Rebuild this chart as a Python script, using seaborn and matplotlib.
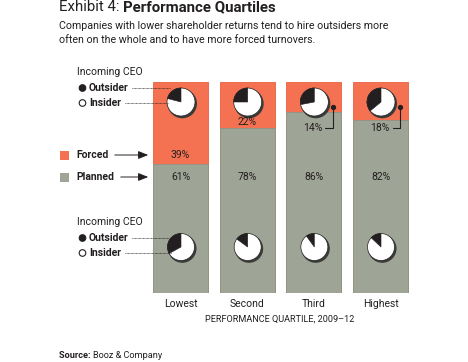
import matplotlib
matplotlib.use('Agg')
import matplotlib.pyplot as plt
from matplotlib.patches import Wedge, Circle, Rectangle
import pandas as pd
import seaborn as sns

quartiles = ['Lowest', 'Second', 'Third', 'Highest']
forced = [39, 22, 14, 18]
planned = [61, 78, 86, 82]
# share of outsider CEOs (percent)
outsider_forced = [21, 25, 28, 36]
outsider_planned = [33, 15, 10, 13]

FORCED = '#F47252'
PLANNED = '#9EA596'
INK = '#231F20'
FONT = 'Roboto'

sns.set_theme(style='white')
plt.rcParams['font.family'] = [FONT, 'DejaVu Sans']

df = pd.DataFrame({'quartile': quartiles, 'forced': forced, 'planned': planned})
df['total'] = df['forced'] + df['planned']

W, H = 468, 362
fig = plt.figure(figsize=(W / 100, H / 100), dpi=100)

# bar axes, placed in pixel terms
bx0, bx1, by0, by1 = 147.2, 413.8, 82, 293
bax = fig.add_axes([bx0 / W, (H - by1) / H, (bx1 - bx0) / W, (by1 - by0) / H])
sns.barplot(data=df, x='quartile', y='total', color=FORCED, saturation=1, width=0.825,
            edgecolor='#E8603F', linewidth=0.6, ax=bax)
sns.barplot(data=df, x='quartile', y='planned', color=PLANNED, saturation=1, width=0.825,
            edgecolor='#8E9587', linewidth=0.6, ax=bax)
bax.set_xlim(-0.5, 3.5)
bax.set_ylim(0, 100)
bax.axis('off')
bax.set_zorder(0)

# overlay in pixel coordinates (y down)
ov = fig.add_axes([0, 0, 1, 1])
ov.set_xlim(0, W)
ov.set_ylim(H, 0)
ov.axis('off')
ov.patch.set_visible(False)
ov.set_zorder(1)

centers = [180.5 + i * 66.67 for i in range(4)]


def pie(cx, cy, r, pct):
    ov.add_patch(Circle((cx + 1.3, cy + 1.6), r, color='#3A3A38', zorder=3))
    ov.add_patch(Circle((cx, cy), r, facecolor='white', edgecolor=INK, lw=0.5, zorder=4))
    ov.add_patch(Wedge((cx, cy), r, -90 - 3.6 * pct, -90, facecolor=INK, edgecolor=INK,
                       lw=0.4, zorder=5))


for i, cx in enumerate(centers):
    pie(cx + 0.5, 102, 14, outsider_forced[i])
    pie(cx + 0.5, 247, 13.5, outsider_planned[i])

# percentage labels
forced_y = [155, 122, 128, 128]
forced_x = [centers[0], centers[1], centers[2] - 1, centers[3] - 1]
for i in range(4):
    ov.text(forced_x[i], forced_y[i], f'{forced[i]}%', ha='center', va='center',
            fontsize=7.5, color=INK, zorder=6)
    ov.text(centers[i], 177, f'{planned[i]}%', ha='center', va='center',
            fontsize=7.5, color=INK, zorder=6)

# connectors for small forced shares
for cx, x_end in [(centers[2], 325), (centers[3], 393)]:
    xd = cx + 19.5
    ov.plot([xd, xd, x_end], [107, 127.5, 127.5], color=INK, lw=0.8, zorder=6)
    ov.plot([xd], [107], 'o', ms=2.8, color=INK, zorder=6)

renderer = fig.canvas.get_renderer()


def text_after(t, x, y, s, **kw):
    ext = t.get_window_extent(renderer=renderer)
    return ov.text(x + ext.width, y, s, **kw)


# titles
t = ov.text(59, 7, 'Exhibit 4: ', fontsize=10.8, color=INK, va='center', ha='left')
text_after(t, 59, 7, 'Performance Quartiles', fontsize=10.8, color=INK, va='center',
           ha='left', fontweight='bold')
ov.text(59, 26, 'Companies with lower shareholder returns tend to hire outsiders more',
        fontsize=7.7, color=INK, va='center', ha='left')
ov.text(59, 40, 'often on the whole and to have more forced turnovers.',
        fontsize=7.7, color=INK, va='center', ha='left')


# incoming CEO keys
def ceo_key(y0, end_out, end_in, y_out_end, y_in_end):
    ov.text(77, y0, 'Incoming CEO', fontsize=7.5, color=INK, va='center', ha='left')
    yo, yi = y0 + 16, y0 + 31
    ov.add_patch(Circle((82.5, yo), 3.3, facecolor=INK, edgecolor=INK, lw=0.8))
    ov.add_patch(Circle((82.5, yi), 3.3, facecolor='white', edgecolor=INK, lw=0.8))
    ov.text(89, yo, 'Outsider', fontsize=7.5, color=INK, va='center', ha='left',
            fontweight='bold')
    ov.text(89, yi, 'Insider', fontsize=7.5, color=INK, va='center', ha='left',
            fontweight='bold')
    ov.plot([132, end_out], [yo, y_out_end], ls=(0, (0.8, 0.8)), color=INK, lw=0.6, zorder=6)
    ov.plot([125, end_in], [yi, y_in_end], ls=(0, (0.8, 0.8)), color=INK, lw=0.6, zorder=6)


ceo_key(72, 170, 168, 88, 103)
ceo_key(222, 169, 171, 238, 253)

# forced/planned legend
for y, lab, col, x_txt_end in [(155, 'Forced', FORCED, 112), (177, 'Planned', PLANNED, 118)]:
    ov.add_patch(Rectangle((60, y - 4.5), 9, 9, facecolor=col, edgecolor='none'))
    ov.text(76, y, lab, fontsize=7.5, color=INK, va='center', ha='left', fontweight='bold')
    ov.annotate('', xy=(151, y), xytext=(x_txt_end, y),
                arrowprops=dict(arrowstyle='-|>,head_length=0.5,head_width=0.2',
                                color=INK, lw=0.7))

# axis labels
for i, cx in enumerate(centers):
    ov.text(cx, 304, quartiles[i], fontsize=7.5, color=INK, ha='center', va='center')
ov.text(280, 319, 'PERFORMANCE QUARTILE, 2009\u201312', fontsize=6.6, color=INK,
        ha='center', va='center')

t = ov.text(59, 356, 'Source: ', fontsize=6.6, color=INK, ha='left', va='center',
            fontweight='bold')
text_after(t, 59, 356, 'Booz & Company', fontsize=6.6, color=INK, ha='left', va='center')

fig.savefig('out.png', dpi=100)
